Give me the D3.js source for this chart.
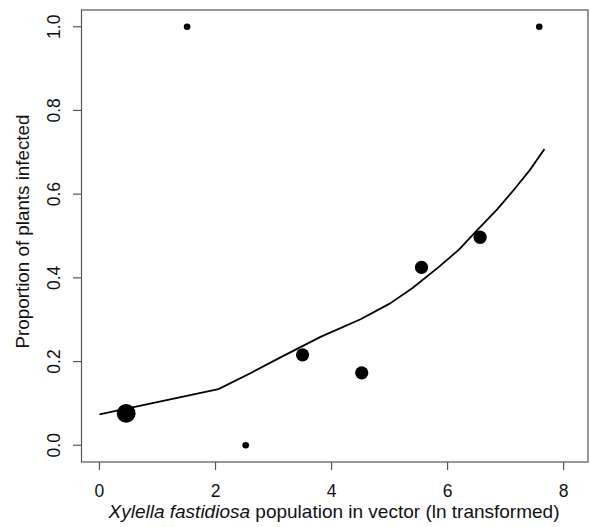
<!DOCTYPE html>
<html>
<head>
<meta charset="utf-8">
<script src="https://cdn.jsdelivr.net/npm/d3@7/dist/d3.min.js"></script>
<style>
  body { margin: 0; background: #fff; }
  text { font-family: "Liberation Sans", Arial, Helvetica, sans-serif; fill: #111; }
</style>
</head>
<body>
<svg id="chart" width="590" height="527"></svg>
<script>
// observed proportions per population class
const popX = [0.46, 1.51, 2.52, 3.5, 4.52, 5.55, 6.56, 7.58];
const propInfected = [0.076, 1.0, 0.0, 0.216, 0.173, 0.425, 0.497, 1.0];
const weight = [8, 1, 1, 4, 4, 4, 4, 1];

// fitted curve
const fitX = [0, 2.05, 2.6, 3.12, 3.81, 4.5, 5.01, 5.39, 5.84, 6.2, 6.51, 6.85, 7.14, 7.42, 7.67];
const fitY = [0.074, 0.134, 0.172, 0.21, 0.259, 0.301, 0.339, 0.375, 0.425, 0.468, 0.514, 0.563, 0.61, 0.658, 0.708];

const xTicks = [0, 2, 4, 6, 8];
const yTicks = [0, 0.2, 0.4, 0.6, 0.8, 1.0];

const box = { left: 81.5, right: 588, top: 10, bottom: 462 };

const svg = d3.select("#chart");

const x = d3.scaleLinear().domain([-0.31, 8.42]).range([box.left, box.right]);
const y = d3.scaleLinear().domain([-0.04, 1.04]).range([box.bottom, box.top]);
const r = d3.scaleSqrt().domain([0, 8]).range([0, 9.4]);

// frame
svg.append("rect")
  .attr("x", box.left).attr("y", box.top)
  .attr("width", box.right - box.left).attr("height", box.bottom - box.top)
  .attr("fill", "none").attr("stroke", "#555").attr("stroke-width", 1.2);

// x axis ticks
const xg = svg.append("g");
xg.selectAll("line").data(xTicks).join("line")
  .attr("x1", d => x(d)).attr("x2", d => x(d))
  .attr("y1", box.bottom).attr("y2", box.bottom + 8)
  .attr("stroke", "#555").attr("stroke-width", 1.2);
xg.selectAll("text").data(xTicks).join("text")
  .attr("x", d => x(d)).attr("y", 497)
  .attr("text-anchor", "middle")
  .style("font-size", "17.5px")
  .text(d => d);

// y axis ticks
const yg = svg.append("g");
yg.selectAll("line").data(yTicks).join("line")
  .attr("x1", box.left - 8.5).attr("x2", box.left)
  .attr("y1", d => y(d)).attr("y2", d => y(d))
  .attr("stroke", "#555").attr("stroke-width", 1.2);
yg.selectAll("text").data(yTicks).join("text")
  .attr("transform", d => `translate(60, ${y(d)}) rotate(-90)`)
  .attr("text-anchor", "middle")
  .style("font-size", "17.5px")
  .text(d => d3.format(".1f")(d));

// axis labels
const xl = svg.append("text")
  .attr("x", 334)
  .attr("y", 518)
  .attr("text-anchor", "middle")
  .style("font-size", "19px");
xl.append("tspan").style("font-style", "italic").text("Xylella fastidiosa");
xl.append("tspan").text(" population in vector (ln transformed)");

svg.append("text")
  .attr("transform", `translate(28.5, 231.5) rotate(-90)`)
  .attr("text-anchor", "middle")
  .style("font-size", "18.8px")
  .text("Proportion of plants infected");

// fitted line
const line = d3.line().x(d => x(d[0])).y(d => y(d[1]));
svg.append("path")
  .datum(d3.zip(fitX, fitY))
  .attr("d", line)
  .attr("fill", "none")
  .attr("stroke", "#000")
  .attr("stroke-width", 1.8)
  .attr("stroke-linejoin", "round");

// points
svg.selectAll("circle.pt")
  .data(d3.range(popX.length))
  .join("circle")
  .attr("class", "pt")
  .attr("cx", i => x(popX[i]))
  .attr("cy", i => y(propInfected[i]))
  .attr("r", i => r(weight[i]))
  .attr("fill", "#000");
</script>
</body>
</html>
